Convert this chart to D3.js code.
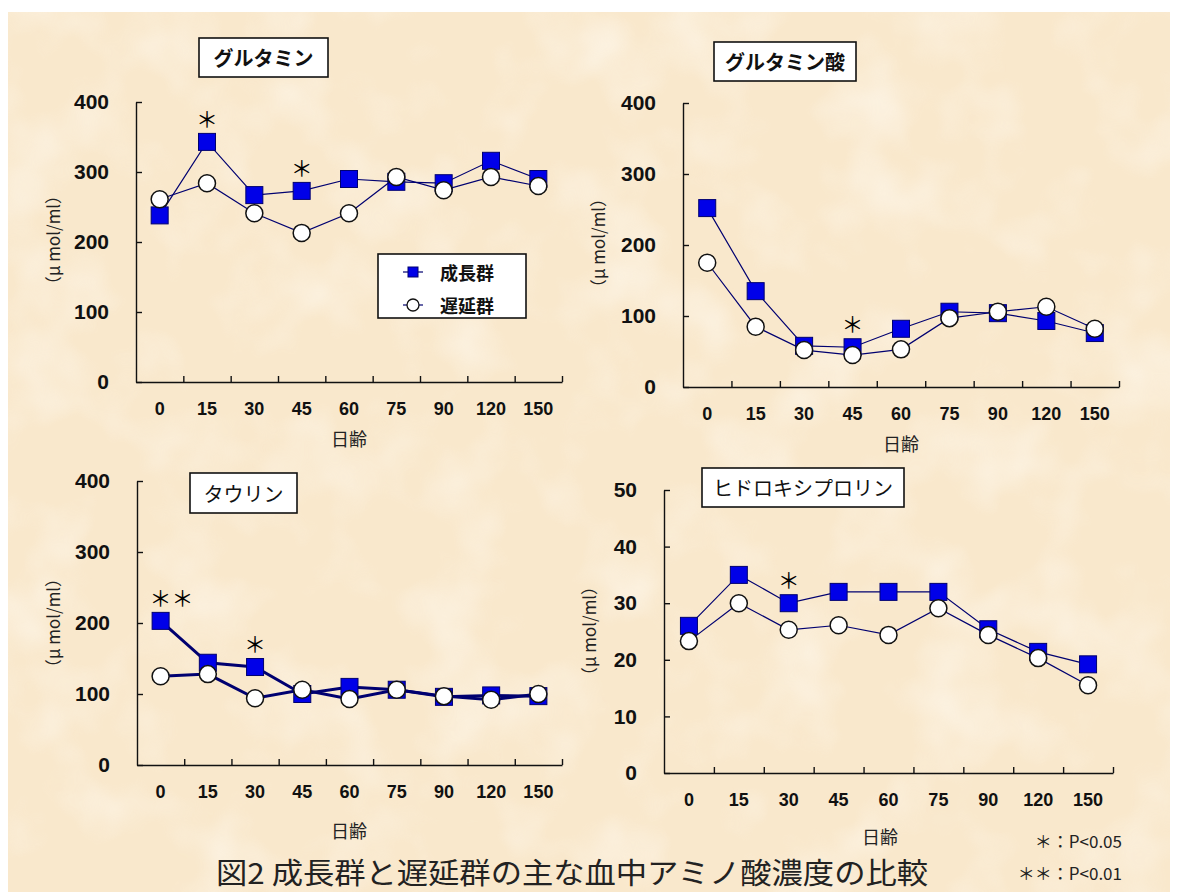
<!DOCTYPE html>
<html>
<head>
<meta charset="utf-8">
<script src="https://cdn.jsdelivr.net/npm/d3@7"></script>
<style>
  body { margin: 0; background: #fff; }
  svg { display: block; }
</style>
</head>
<body>
<svg id="chart"></svg>
<script>
// data
const days = ['0', '15', '30', '45', '60', '75', '90', '120', '150'];
const groups = ['成長群', '遅延群'];

const glnGrowth = [238, 343, 267, 273, 290, 286, 284, 316, 290];
const glnDelay  = [261, 284, 241, 213, 241, 293, 274, 293, 280];
const gluGrowth = [252, 135, 58, 56, 82, 106, 104, 93, 76];
const gluDelay  = [175, 85, 52, 45, 53, 97, 106, 113, 82];
const tauGrowth = [203, 144, 138, 100, 110, 106, 96, 98, 97];
const tauDelay  = [125, 128, 94, 106, 93, 106, 97, 92, 100];
const hypGrowth = [26, 35, 30, 32, 32, 32, 25.4, 21.4, 19.2];
const hypDelay  = [23.3, 30, 25.3, 26.1, 24.4, 29.1, 24.4, 20.3, 15.5];

const ticks400 = [0, 100, 200, 300, 400];
const ticks50 = [0, 10, 20, 30, 40, 50];

// significance marks: [day, mark]
const glnStars = [['15', '＊'], ['45', '＊']];
const gluStars = [['45', '＊']];
const tauStars = [['0', '＊＊'], ['30', '＊']];
const hypStars = [['30', '＊']];

const footnotes = ['＊：P<0.05', '＊＊：P<0.01'];
const figTitle = '図2 成長群と遅延群の主な血中アミノ酸濃度の比較';
const yTitle = '（μ mol/ml）';
const xTitle = '日齢';

const W = 1178, H = 892;
const JP = '"Noto Sans CJK JP", sans-serif';
const NUM = '"Liberation Sans", Arial, sans-serif';
const NAVY = '#000070';

const svg = d3.select('#chart').attr('width', W).attr('height', H);

// paper background
const defs = svg.append('defs');
const f = defs.append('filter').attr('id', 'paper').attr('x', 0).attr('y', 0).attr('width', 1).attr('height', 1);
f.append('feTurbulence').attr('type', 'fractalNoise').attr('baseFrequency', 0.012).attr('numOctaves', 3).attr('seed', 7);
f.append('feColorMatrix').attr('type', 'matrix')
  .attr('values', '0 0 0 0 1  0 0 0 0 0.98  0 0 0 0 0.94  1.6 0 0 0 -0.75');
svg.append('rect').attr('x', 8).attr('y', 12).attr('width', W - 16).attr('height', H - 12).attr('fill', '#f9e8cc');
svg.append('rect').attr('x', 8).attr('y', 12).attr('width', W - 16).attr('height', H - 12)
  .attr('filter', 'url(#paper)').attr('opacity', 0.7);

const panels = [
  { name: 'グルタミン', growth: glnGrowth, delay: glnDelay, yMax: 400, yTicks: ticks400, stars: glnStars,
    x0: 136, x1: 562, y0: 382, y1: 102, box: [199, 38, 129, 39], bold: true,
    yLab: [52, 240], xLab: [349, 438], lw: 1.2, legend: true },
  { name: 'グルタミン酸', growth: gluGrowth, delay: gluDelay, yMax: 400, yTicks: ticks400, stars: gluStars,
    x0: 683, x1: 1119, y0: 387, y1: 103, box: [714, 42, 142, 39], bold: true,
    yLab: [597, 243], xLab: [901, 443], lw: 1.2 },
  { name: 'タウリン', growth: tauGrowth, delay: tauDelay, yMax: 400, yTicks: ticks400, stars: tauStars,
    x0: 137, x1: 562, y0: 765, y1: 481, box: [190, 473, 107, 40], bold: false,
    yLab: [52, 623], xLab: [349, 830], lw: 3 },
  { name: 'ヒドロキシプロリン', growth: hypGrowth, delay: hypDelay, yMax: 50, yTicks: ticks50, stars: hypStars,
    x0: 664, x1: 1113, y0: 773, y1: 490, box: [702, 468, 202, 39], bold: false,
    yLab: [588, 631], xLab: [880, 836], lw: 1.2 }
];

function styleAxis(a) {
  a.select('.domain').attr('stroke', '#111').attr('stroke-width', 1.4);
  a.selectAll('.tick line').attr('stroke', '#111').attr('stroke-width', 1.4);
}

function drawPanel(p) {
  const x = d3.scaleBand().domain(days).range([p.x0, p.x1]);
  const cx = d => x(d) + x.bandwidth() / 2;
  const y = d3.scaleLinear().domain([0, p.yMax]).range([p.y0, p.y1]);
  const g = svg.append('g');

  // y axis, ticks pointing inward
  g.append('g').attr('transform', `translate(${p.x0},0)`)
    .call(d3.axisLeft(y).tickValues(p.yTicks).tickSize(-6).tickSizeOuter(0).tickPadding(27))
    .call(styleAxis)
    .selectAll('text')
    .attr('font-family', NUM).attr('font-weight', 'bold').attr('font-size', 21).attr('fill', '#111');

  // x axis line with ticks between categories
  const xt = d3.scaleLinear().domain([0, days.length]).range([p.x0, p.x1]);
  g.append('g').attr('transform', `translate(0,${p.y0})`)
    .call(d3.axisBottom(xt).tickValues(d3.range(1, days.length + 1)).tickSize(-6).tickSizeOuter(0).tickFormat(''))
    .call(styleAxis);

  // x tick labels
  g.append('g').attr('transform', `translate(0,${p.y0})`)
    .call(d3.axisBottom(x).tickSize(0).tickPadding(20))
    .call(a => a.select('.domain').remove())
    .selectAll('text')
    .attr('font-family', NUM).attr('font-weight', 'bold').attr('font-size', 18).attr('fill', '#111');

  // axis titles
  g.append('text')
    .attr('transform', `translate(${p.yLab[0]},${p.yLab[1]}) rotate(-90)`)
    .attr('text-anchor', 'middle').attr('dominant-baseline', 'central')
    .attr('font-family', JP).attr('font-size', 17).attr('fill', '#222')
    .attr('textLength', 106).attr('lengthAdjust', 'spacingAndGlyphs')
    .text(yTitle);
  g.append('text')
    .attr('x', p.xLab[0]).attr('y', p.xLab[1])
    .attr('text-anchor', 'middle').attr('dominant-baseline', 'central')
    .attr('font-family', JP).attr('font-size', 18).attr('fill', '#222')
    .text(xTitle);

  // title box
  g.append('rect')
    .attr('x', p.box[0]).attr('y', p.box[1]).attr('width', p.box[2]).attr('height', p.box[3])
    .attr('fill', '#fff').attr('stroke', '#111').attr('stroke-width', 1.6);
  g.append('text')
    .attr('x', p.box[0] + p.box[2] / 2).attr('y', p.box[1] + p.box[3] / 2)
    .attr('text-anchor', 'middle').attr('dominant-baseline', 'central')
    .attr('font-family', JP).attr('font-size', 20).attr('font-weight', p.bold ? 'bold' : 'normal')
    .attr('fill', '#111')
    .text(p.name);

  const line = d3.line().x((d, i) => cx(days[i])).y(d => y(d));

  // growth group: blue squares
  g.append('path').datum(p.growth)
    .attr('d', line).attr('fill', 'none').attr('stroke', NAVY).attr('stroke-width', p.lw);
  g.selectAll('.sq').data(p.growth).join('rect').attr('class', 'sq')
    .attr('x', (d, i) => cx(days[i]) - 8.5).attr('y', d => y(d) - 8.5)
    .attr('width', 17).attr('height', 17)
    .attr('fill', '#0000e8').attr('stroke', NAVY).attr('stroke-width', 1);

  // delayed group: open circles
  g.append('path').datum(p.delay)
    .attr('d', line).attr('fill', 'none').attr('stroke', NAVY).attr('stroke-width', p.lw);
  g.selectAll('.ci').data(p.delay).join('circle').attr('class', 'ci')
    .attr('cx', (d, i) => cx(days[i])).attr('cy', d => y(d)).attr('r', 8.5)
    .attr('fill', '#fff').attr('stroke', '#111').attr('stroke-width', 1.5);

  // significance marks above the growth group
  g.selectAll('.star').data(p.stars).join('text').attr('class', 'star')
    .attr('x', d => cx(d[0]) - 11)
    .attr('y', d => y(p.growth[days.indexOf(d[0])]) - 25)
    .attr('dominant-baseline', 'central')
    .attr('font-family', JP).attr('font-size', 22).attr('fill', '#000')
    .text(d => d[1]);

  if (p.legend) {
    const lg = g.append('g');
    lg.append('rect').attr('x', 378).attr('y', 254).attr('width', 148).attr('height', 64)
      .attr('fill', '#fff').attr('stroke', '#111').attr('stroke-width', 1.6);
    const rows = lg.selectAll('.row').data(groups).join('g')
      .attr('transform', (d, i) => `translate(403,${272 + i * 33})`);
    rows.append('line').attr('x1', 0).attr('x2', 20).attr('stroke', NAVY).attr('stroke-width', 1.2);
    rows.filter((d, i) => i === 0).append('rect')
      .attr('x', 5).attr('y', -5).attr('width', 10).attr('height', 10)
      .attr('fill', '#0000e8').attr('stroke', NAVY);
    rows.filter((d, i) => i === 1).append('circle')
      .attr('cx', 10).attr('r', 6).attr('fill', '#fff').attr('stroke', '#111').attr('stroke-width', 1.3);
    rows.append('text').attr('x', 37).attr('dominant-baseline', 'central')
      .attr('font-family', JP).attr('font-weight', 'bold').attr('font-size', 18).attr('fill', '#111')
      .text(d => d);
  }
}

panels.forEach(drawPanel);

// figure caption and footnotes
svg.append('text')
  .attr('x', 572).attr('y', 871)
  .attr('text-anchor', 'middle').attr('dominant-baseline', 'central')
  .attr('font-family', JP).attr('font-size', 29).attr('fill', '#222')
  .attr('textLength', 712).attr('lengthAdjust', 'spacingAndGlyphs')
  .text(figTitle);

svg.selectAll('.foot').data(footnotes).join('text').attr('class', 'foot')
  .attr('x', 1122).attr('y', (d, i) => 840 + i * 32)
  .attr('text-anchor', 'end').attr('dominant-baseline', 'central')
  .attr('font-family', JP).attr('font-size', 17).attr('fill', '#222')
  .text(d => d);
</script>
</body>
</html>
